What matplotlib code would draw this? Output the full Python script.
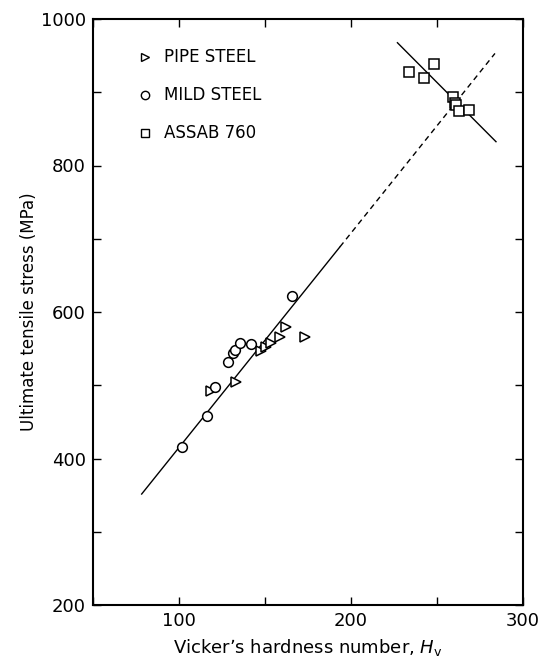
import matplotlib
matplotlib.use("Agg")
import matplotlib.pyplot as plt
from matplotlib.ticker import MultipleLocator

# ── data ────────────────────────────────────────────────────────────────────
pipe_hv = [118.6, 133.1, 147.7, 150.6, 153.5, 158.7, 162.0, 173.3]
pipe_uts = [492, 505, 547, 552, 557, 566, 579, 566]

mild_hv = [101.6, 116.1, 121.0, 128.3, 131.6, 132.6, 135.5, 141.9, 165.5]
mild_uts = [416, 458, 497, 532, 544, 548, 557, 556, 622]

assab_hv = [233.9, 242.6, 248.4, 259.5, 260.5, 261.0, 263.0, 268.8]
assab_uts = [927, 920, 938, 893, 886, 882, 875, 876]

# overall correlation line: solid part, then dashed extrapolation
fit_solid_hv = [78.3, 193.6]
fit_solid_uts = [351.5, 689.0]
fit_dash_hv = [193.6, 283.7]
fit_dash_uts = [689.0, 953.0]

# ASSAB 760 trend line
assab_line_hv = [227.0, 284.3]
assab_line_uts = [967.6, 832.5]

legend_markers = [">", "o", "s"]
legend_labels = ["PIPE STEEL", "MILD STEEL", "ASSAB 760"]

plt.rcParams["font.family"] = "DejaVu Sans"

fig = plt.figure(figsize=(5.43, 6.61), dpi=100)
ax = fig.add_axes([93 / 543, 1 - 605 / 661, 430 / 543, 586 / 661])

ax.plot(fit_solid_hv, fit_solid_uts, color="black", lw=1.0)
ax.plot(fit_dash_hv, fit_dash_uts, color="black", lw=1.0, ls=(0, (4, 3)))
ax.plot(assab_line_hv, assab_line_uts, color="black", lw=1.0)

mk = dict(ls="none", mfc="white", mec="black", mew=1.1)
ax.plot(pipe_hv, pipe_uts, marker=">", ms=7, **mk)
ax.plot(mild_hv, mild_uts, marker="o", ms=7, **mk)
ax.plot(assab_hv, assab_uts, marker="s", ms=7.5, **mk)

# legend drawn as in the original (markers + text, no frame)
for i, (m, lab) in enumerate(zip(legend_markers, legend_labels)):
    yy = 0.935 - i * 0.065
    ax.plot([0.12], [yy], marker=m, ms=6, transform=ax.transAxes,
            ls="none", mfc="white", mec="black", mew=1.0)
    ax.text(0.165, yy, lab, transform=ax.transAxes, fontsize=12,
            va="center", ha="left")

ax.set_xlim(50, 300)
ax.set_ylim(200, 1000)
ax.xaxis.set_major_locator(MultipleLocator(100))
ax.xaxis.set_minor_locator(MultipleLocator(50))
ax.yaxis.set_major_locator(MultipleLocator(200))
ax.yaxis.set_minor_locator(MultipleLocator(100))
ax.tick_params(which="both", direction="in", top=True, right=True,
               length=6, width=1.0, labelsize=13, pad=5)

for sp in ax.spines.values():
    sp.set_linewidth(1.5)

ax.set_xlabel("Vicker\u2019s hardness number, $H_\\mathrm{v}$", fontsize=13, labelpad=5)
ax.set_ylabel("Ultimate tensile stress (MPa)", fontsize=12, labelpad=2)

fig.savefig("out.png", dpi=100)
